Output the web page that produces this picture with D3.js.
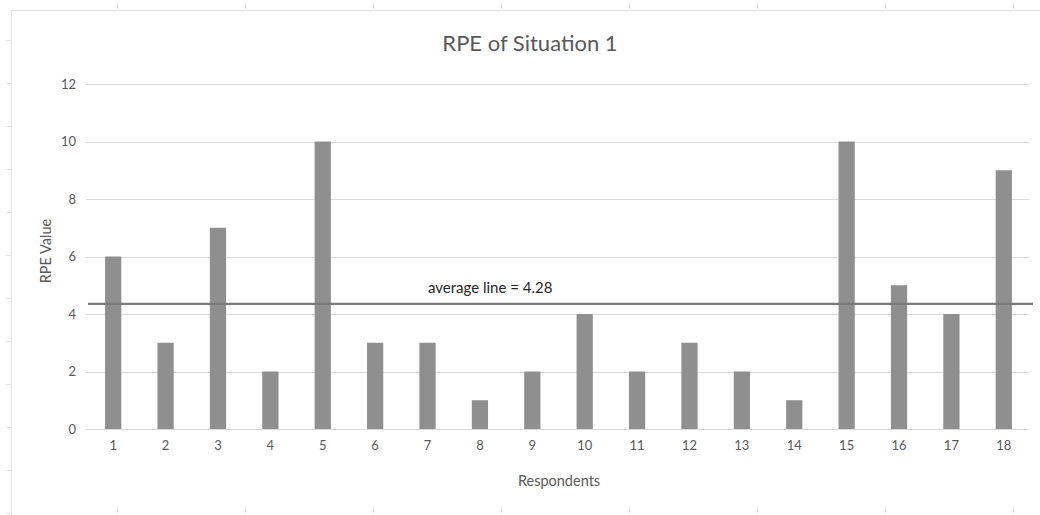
<!DOCTYPE html>
<html>
<head>
<meta charset="utf-8">
<script src="https://cdn.jsdelivr.net/npm/d3@7"></script>
<style>
  html, body { margin: 0; padding: 0; background: #ffffff; }
  svg { display: block; font-family: Lato, "Open Sans", sans-serif; }
</style>
</head>
<body>
<svg id="chart" width="1040" height="515"></svg>
<script>
// ---- data ----
const respondents = ["1","2","3","4","5","6","7","8","9","10","11","12","13","14","15","16","17","18"];
const rpeValues = [6, 3, 7, 2, 10, 3, 3, 1, 2, 4, 2, 3, 2, 1, 10, 5, 4, 9];
const yTicks = [0, 2, 4, 6, 8, 10, 12];
const averageLabel = "average line = 4.28";
const averageLineLevel = 4.35; // where the line is drawn in the picture
const titleText = "RPE of Situation 1";
const xTitle = "Respondents";
const yTitle = "RPE Value";

// ---- layout ----
const W = 1040, H = 515;
const plot = { left: 86, right: 1029, top: 84, bottom: 429 };
const svg = d3.select("#chart");

// faint frame artifacts
const frame = svg.append("g").attr("stroke", "#e4e4e4").attr("fill", "none");
frame.append("line").attr("x1", 10).attr("x2", W).attr("y1", 10.5).attr("y2", 10.5);
frame.append("line").attr("x1", 11.5).attr("x2", 11.5).attr("y1", 10).attr("y2", H);
const frameTicks = d3.range(117, W, 128);
frameTicks.forEach(x => {
  frame.append("line").attr("x1", x + 0.5).attr("x2", x + 0.5).attr("y1", 3).attr("y2", 9);
  frame.append("line").attr("x1", x + 0.5).attr("x2", x + 0.5).attr("y1", 506).attr("y2", 513);
});
d3.range(40, H, 43).forEach(y => {
  frame.append("line").attr("x1", 6).attr("x2", 11).attr("y1", y + 0.5).attr("y2", y + 0.5);
});

const x = d3.scaleBand().domain(respondents).range([plot.left + 1, plot.right + 1]).paddingInner(0.69).paddingOuter(0.345);
const y = d3.scaleLinear().domain([0, 12]).range([plot.bottom, plot.top]);

// gridlines
svg.append("g").selectAll("line").data(yTicks).join("line")
  .attr("x1", plot.left).attr("x2", plot.right)
  .attr("y1", d => Math.round(y(d)) + 0.5).attr("y2", d => Math.round(y(d)) + 0.5)
  .attr("stroke", "#d9d9d9").attr("stroke-width", 1);

// y axis labels
const yAxis = d3.axisLeft(y).tickValues(yTicks).tickSize(0).tickPadding(10);
const gy = svg.append("g").attr("transform", `translate(${plot.left},0)`).call(yAxis);
gy.select(".domain").remove();
gy.selectAll("text").attr("fill", "#595959").style("font-size", "13px").style("font-family", "Lato, sans-serif");

// x axis labels
const xAxis = d3.axisBottom(x).tickSize(0).tickPadding(12);
const gx = svg.append("g").attr("transform", `translate(0,${plot.bottom})`).call(xAxis);
gx.select(".domain").remove();
gx.selectAll("text").attr("fill", "#595959").style("font-size", "13px").style("font-family", "Lato, sans-serif");

// bars
svg.append("g").selectAll("rect").data(rpeValues).join("rect")
  .attr("x", (d, i) => x(respondents[i]))
  .attr("width", x.bandwidth())
  .attr("y", d => y(d))
  .attr("height", d => y(0) - y(d))
  .attr("fill", "#8f8f8f");

// average line
svg.append("line")
  .attr("x1", plot.left + 2).attr("x2", 1033)
  .attr("y1", y(averageLineLevel)).attr("y2", y(averageLineLevel))
  .attr("stroke", "#7a7a7a").attr("stroke-width", 2.2);

svg.append("text")
  .attr("x", 428).attr("y", y(averageLineLevel) - 11)
  .attr("fill", "#262626").style("font-size", "15px")
  .text(averageLabel);

// title
svg.append("text")
  .attr("x", 530).attr("y", 51).attr("text-anchor", "middle")
  .attr("fill", "#595959").style("font-size", "22px")
  .text(titleText);

// axis titles
svg.append("text")
  .attr("x", 559).attr("y", 486).attr("text-anchor", "middle")
  .attr("fill", "#595959").style("font-size", "14.5px")
  .text(xTitle);

svg.append("text")
  .attr("transform", `translate(51,251) rotate(-90)`)
  .attr("text-anchor", "middle")
  .attr("fill", "#595959").style("font-size", "14.5px")
  .text(yTitle);
</script>
</body>
</html>
